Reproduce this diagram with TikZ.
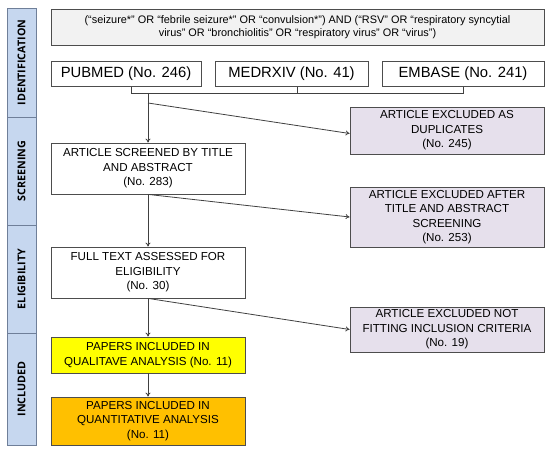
\documentclass[tikz,border=0pt]{standalone}
\usepackage{fontspec}
\setmainfont{Liberation Sans}
\newfontfamily\bandfont{Open Sans}
\usetikzlibrary{arrows.meta}
\definecolor{bandfill}{HTML}{C6D7EF}
\definecolor{banddraw}{HTML}{6F7F99}
\definecolor{boxdraw}{HTML}{4D4D4D}
\definecolor{queryfill}{HTML}{F2F2F2}
\definecolor{exfill}{HTML}{E6E0EC}
\definecolor{yel}{HTML}{FFFF00}
\definecolor{ora}{HTML}{FFC000}
\definecolor{arr}{HTML}{404040}
\tikzset{
  band/.style={draw=banddraw, fill=bandfill, line width=0.9pt, minimum width=29pt, inner sep=0pt},
  bandtxt/.style={rotate=90, font=\bandfont\bfseries\fontsize{10.7}{12}\selectfont, text=black},
  box/.style={draw=boxdraw, line width=0.8pt, fill=white, inner sep=0pt, align=center,
    font=\fontsize{11.6}{14.5}\selectfont},
  src/.style={box, minimum height=25pt, font=\fontsize{14.8}{17}\selectfont},
  exbox/.style={box, fill=exfill, minimum width=194pt},
  mainbox/.style={box, minimum width=194pt},
  conn/.style={draw=arr, line width=0.8pt},
  arrow/.style={conn, -{To[length=4pt,width=5pt]}},
}
\begin{document}
\begin{tikzpicture}[x=1pt,y=-1pt]
\useasboundingbox (0,0) rectangle (550,449);
% bands
\node[band, minimum height=109pt] (b1) at (21.5,62.5) {};
\node[bandtxt] at (b1.center) {IDENTIFICATION};
\node[band, minimum height=108pt] (b2) at (21.5,171) {};
\node[bandtxt] at (b2.center) {SCREENING};
\node[band, minimum height=108pt] (b3) at (21.5,279) {};
\node[bandtxt] at (b3.center) {ELIGIBILITY};
\node[band, minimum height=112pt] (b4) at (21.5,389) {};
\node[bandtxt] at (b4.center) {INCLUDED};
% query
\node[box, fill=queryfill, minimum width=493pt, minimum height=36pt, font=\fontsize{10.9}{13.5}\selectfont] (q) at (297.5,27)
 {(“seizure*” OR “febrile seizure*” OR “convulsion*”) AND (“RSV” OR “respiratory syncytial\\virus” OR “bronchiolitis” OR “respiratory virus” OR “virus”)};
% sources
\node[src, minimum width=150pt] (pub) at (126,74) {PUBMED (No. 246)};
\node[src, minimum width=153pt] (med) at (291.5,74) {MEDRXIV (No. 41)};
\node[src, minimum width=162pt] (emb) at (463,74) {EMBASE (No. 241)};
% bracket
\coordinate (bl) at (131,93);
\coordinate (bm) at (297,93);
\coordinate (br) at (463,93);
\coordinate (bj) at (148,93);
\coordinate (bd) at (148,103);
\draw[conn] (bl |- pub.south) -- (bl) -- (br) -- (br |- emb.south);
\draw[conn] (bm) -- (bm |- med.south);
% main boxes
\node[mainbox, minimum height=51pt] (scr) at (148,168.5) {ARTICLE SCREENED BY TITLE\\AND ABSTRACT\\(No. 283)};
\node[mainbox, minimum height=51pt] (full) at (148,272.5) {FULL TEXT ASSESSED FOR\\ELIGIBILITY\\(No. 30)};
\node[mainbox, fill=yel, minimum height=36pt] (qual) at (148,355) {PAPERS INCLUDED IN\\QUALITAVE ANALYSIS (No. 11)};
\node[mainbox, fill=ora, minimum height=48pt] (quan) at (148,421) {PAPERS INCLUDED IN\\QUANTITATIVE ANALYSIS\\(No. 11)};
% excluded
\node[exbox, minimum height=47pt] (ex1) at (447,130.5) {ARTICLE EXCLUDED AS\\DUPLICATES\\(No. 245)};
\node[exbox, minimum height=60pt] (ex2) at (447,217) {ARTICLE EXCLUDED AFTER\\TITLE AND ABSTRACT\\SCREENING\\(No. 253)};
\node[exbox, minimum height=45pt] (ex3) at (447,329.5) {ARTICLE EXCLUDED NOT\\FITTING INCLUSION CRITERIA\\(No. 19)};
% connectors
\draw[arrow] (bj) -- (scr.north);
\draw[arrow] (bd) -- ([yshift=-3pt]ex1.west);
\draw[arrow] (scr.south) -- (full.north);
\draw[arrow] (scr.south) -- (ex2.west);
\draw[arrow] (full.south) -- (qual.north);
\draw[arrow] (full.south) -- (ex3.west);
\draw[arrow] (qual.south) -- (quan.north);
\end{tikzpicture}
\end{document}
